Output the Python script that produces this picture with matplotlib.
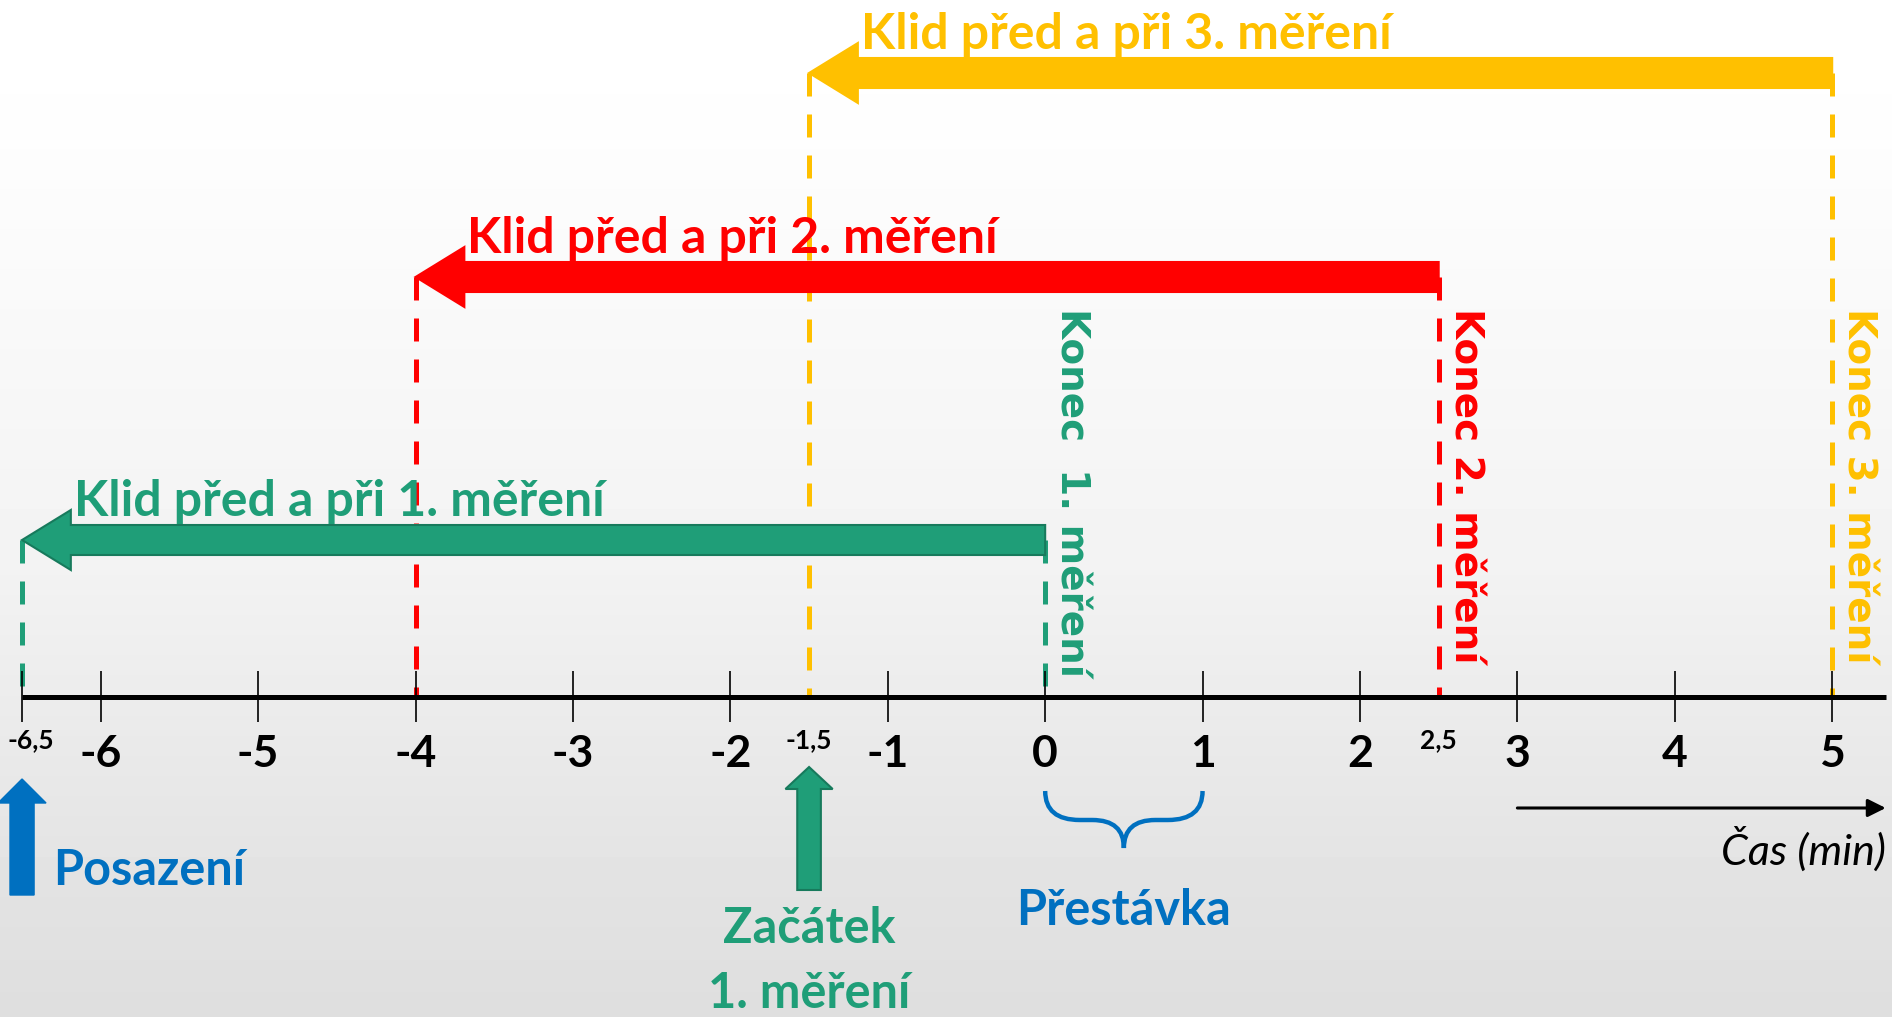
import numpy as np
import matplotlib.pyplot as plt
from matplotlib.patches import FancyArrow, PathPatch
from matplotlib.path import Path

plt.rcParams['font.family'] = ['Lato', 'DejaVu Sans']

# casova osa (min)
major_ticks = [-6, -5, -4, -3, -2, -1, 0, 1, 2, 3, 4, 5]
major_labels = ["-6", "-5", "-4", "-3", "-2", "-1", "0", "1", "2", "3", "4", "5"]
minor_ticks = [-6.5, -1.5, 2.5]
minor_labels = ["-6,5", "-1,5", "2,5"]

# klid pred a pri mereni
rest_start = [-6.5, -4, -1.5]
rest_end = [0, 2.5, 5]
rest_labels = ["Klid před a při 1. měření", "Klid před a při 2. měření", "Klid před a při 3. měření"]
end_labels = ["Konec  1. měření", "Konec 2. měření", "Konec 3. měření"]

# udalosti pod osou
sit_time = -6.5
start_time = -1.5
break_span = [0, 1]

green = "#1f9e78"
red = "#ff0000"
yellow = "#ffc000"
blue = "#0070c0"
colors = [green, red, yellow]

# rozlozeni (y v pixelech shora)
rest_y = [540, 277, 73]
axis_y = 697
xmin, xmax = -6.64, 5.38

fig = plt.figure(figsize=(18.92, 10.17), dpi=100)
ax = fig.add_axes([0, 0, 1, 1])

# pozadi - prechod z bile do svetle sede
grad = np.interp(np.arange(1017), [0, 120, 560, 900, 1017], [1.0, 0.995, 0.952, 0.886, 0.872])
ax.imshow(np.tile(grad[:, None], (1, 2)), cmap='gray', vmin=0, vmax=1,
          extent=[xmin, xmax, 1017, 0], origin='upper', aspect='auto', zorder=0)
ax.set_xlim(xmin, xmax)
ax.set_ylim(1017, 0)
ax.axis('off')

# osa
ax.plot([-6.5, 5.34], [axis_y, axis_y], color='black', lw=3.6, solid_capstyle='butt', zorder=4)
ax.vlines([minor_ticks[0]] + major_ticks, 671, 722, color='black', lw=1.2, zorder=4)
for t, lab in zip(major_ticks, major_labels):
    ax.text(t, 754, lab, ha='center', va='center', fontsize=32, fontweight='bold')
for i, (t, lab) in enumerate(zip(minor_ticks, minor_labels)):
    # prvni popisek posunout, aby se vesel do obrazku
    shift = 6 if i == 0 else 0
    ax.annotate(lab, (t, 740), xytext=(shift, 0), textcoords='offset points',
                ha='center', va='center', fontsize=19, fontweight='bold')

# sipky klidu
for s, e, y, c, lab, end_lab in zip(rest_start, rest_end, rest_y, colors, rest_labels, end_labels):
    ax.plot([s, s], [y, axis_y], color=c, lw=3.6, dashes=(4.6, 3.6), zorder=2)
    ax.plot([e, e], [y, axis_y], color=c, lw=3.6, dashes=(4.6, 3.6), zorder=2)
    edge = "#177a5c" if c == green else c
    ax.add_patch(FancyArrow(e, y, s - e, 0, width=30, head_width=60, head_length=0.31,
                            length_includes_head=True, facecolor=c, edgecolor=edge, lw=1.5, zorder=3))
    ax.text(s + 0.33, y - 24, lab, color=c, fontsize=36, fontweight='bold', va='baseline', zorder=5)
    ax.text(e + 0.17, 308, end_lab, color=c, rotation=-90, ha='center', va='top',
            fontsize=28, fontweight='bold', family='DejaVu Sans', zorder=5)

# posazeni
ax.add_patch(FancyArrow(sit_time, 895, 0, -116, width=0.153, head_width=0.305, head_length=24,
                        length_includes_head=True, facecolor=blue, edgecolor=blue, zorder=3))
ax.text(sit_time + 0.2, 885, "Posazení", color=blue, fontsize=35, fontweight='bold', va='baseline')

# zacatek 1. mereni
ax.add_patch(FancyArrow(start_time, 890, 0, -123, width=0.15, head_width=0.3, head_length=22,
                        length_includes_head=True, facecolor=green, edgecolor="#177a5c", lw=1.5, zorder=3))
ax.text(start_time, 943, "Začátek", color=green, ha='center', va='baseline', fontsize=35, fontweight='bold')
ax.text(start_time, 1008, "1. měření", color=green, ha='center', va='baseline', fontsize=35, fontweight='bold')

# prestavka - slozena zavorka
x0, x1 = break_span
xm = (x0 + x1) / 2
verts = [(x0, 791), (x0, 820), (x0 + 0.22, 820), (xm - 0.2, 820), (xm, 820), (xm, 848),
         (xm, 820), (xm + 0.2, 820), (x1 - 0.22, 820), (x1, 820), (x1, 791)]
codes = [Path.MOVETO, Path.CURVE3, Path.CURVE3, Path.LINETO, Path.CURVE3, Path.CURVE3,
         Path.CURVE3, Path.CURVE3, Path.LINETO, Path.CURVE3, Path.CURVE3]
ax.add_patch(PathPatch(Path(verts, codes), fill=False, edgecolor=blue, lw=3.2, zorder=3))
ax.text(xm, 925, "Přestávka", color=blue, ha='center', va='baseline', fontsize=35, fontweight='bold')

# smer casu
ax.annotate('', xy=(5.34, 808), xytext=(3, 808),
            arrowprops=dict(arrowstyle='-|>', color='black', lw=2.2, mutation_scale=27, shrinkA=0, shrinkB=0))
ax.text(5.34, 865, "Čas (min)", ha='right', va='baseline', fontsize=31, style='italic')

fig.savefig("out.png", dpi=100)
